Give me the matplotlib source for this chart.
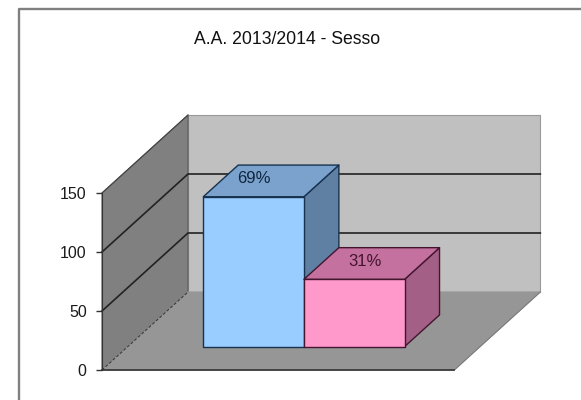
import matplotlib
matplotlib.use("Agg")
import matplotlib.pyplot as plt
from matplotlib.lines import Line2D
from matplotlib.patches import Polygon

plt.rcParams['font.family'] = ['Liberation Sans', 'DejaVu Sans']

# data
title = "A.A. 2013/2014 - Sesso"
values = [127, 57]
labels = ["69%", "31%"]
yticks = [0, 50, 100, 150]

# colours, one set per bar: front, top, side, edge
front_colors = ['#99CCFF', '#FF99CC']
top_colors = ['#7AA2CC', '#C4719F']
side_colors = ['#5F80A3', '#A35F85']
edge_colors = ['#16324F', '#43152F']
label_colors = ['#10263F', '#43152F']
label_shift = [0, 11]  # pixels, the labels are not centred the same way

W, H = 581, 400
x0, x1 = 102, 454.3  # floor front edge in pixels
y0, y1 = 370, 193  # 0 and 150 on the axis in pixels
depth_x, depth_y = 86, 78  # pixels from front to back of the box

fig = plt.figure(figsize=(W / 100, H / 100), dpi=100)
ax = fig.add_axes([x0 / W, 1 - y0 / H, (x1 - x0) / W, (y0 - y1) / H])
ax.set_xlim(0, 1)
ax.set_ylim(yticks[0], yticks[-1])
ax.patch.set_visible(False)

dx = depth_x / (x1 - x0)
dy = depth_y / (y0 - y1) * yticks[-1]


def pt(x, y, d):
    # oblique projection, d goes from 0 (front) to 1 (back)
    return (x + d * dx, y + d * dy)


def face(points, color, edge, lw=1.0, z=1):
    ax.add_patch(Polygon(points, closed=True, facecolor=color, edgecolor=edge,
                         linewidth=lw, clip_on=False, zorder=z, joinstyle='round'))


top = yticks[-1]

# walls and floor
face([pt(0, 0, 1), pt(1, 0, 1), pt(1, top, 1), pt(0, top, 1)], '#C0C0C0', '#9A9A9A', 0.8)
face([pt(0, 0, 0), pt(0, 0, 1), pt(0, top, 1), pt(0, top, 0)], '#808080', '#5A5A5A', 0.8)
face([pt(0, 0, 0), pt(1, 0, 0), pt(1, 0, 1), pt(0, 0, 1)], '#969696', '#969696', 0.8)

# gridlines go along the side wall and then the back wall
for v in yticks[1:-1]:
    a, b, c = pt(0, v, 0), pt(0, v, 1), pt(1, v, 1)
    ax.plot([a[0], b[0], c[0]], [a[1], b[1], c[1]], color='#222222', lw=1.2,
            clip_on=False, zorder=2)
for v in [top]:
    a, b = pt(0, v, 0), pt(0, v, 1)
    ax.plot([a[0], b[0]], [a[1], b[1]], color='#444444', lw=0.8, clip_on=False, zorder=2)

# edges of the floor
a, b = pt(0, 0, 0), pt(0, 0, 1)
ax.plot([a[0], b[0]], [a[1], b[1]], color='#333333', lw=0.7, ls=(0, (3, 2)), clip_on=False, zorder=2)
a, b = pt(1, 0, 0), pt(1, 0, 1)
ax.plot([a[0], b[0]], [a[1], b[1]], color='#7A7A7A', lw=0.7, clip_on=False, zorder=2)

# bars, one category with two series and gap width 150%
n = len(values)
bar_w = 1 / (n + 1.5)
start = 0.75 * bar_w
d0, d1 = 0.3, 0.706

for i in range(n):
    left = start + i * bar_w
    right = left + bar_w
    v = values[i]
    z = 3 + i
    e = edge_colors[i]
    face([pt(right, 0, d0), pt(right, 0, d1), pt(right, v, d1), pt(right, v, d0)], side_colors[i], e, z=z)
    face([pt(left, v, d0), pt(right, v, d0), pt(right, v, d1), pt(left, v, d1)], top_colors[i], e, z=z)
    face([pt(left, 0, d0), pt(right, 0, d0), pt(right, v, d0), pt(left, v, d0)], front_colors[i], e, z=z)
    cx, cy = pt((left + right) / 2, v, d0)
    ax.annotate(labels[i], (cx, cy), xytext=(label_shift[i] * 0.72, 13),
                textcoords='offset points', ha='center', va='center',
                fontsize=12, color=label_colors[i], zorder=10)

# axis
for s in ['top', 'right']:
    ax.spines[s].set_visible(False)
ax.spines['left'].set_color('#333333')
ax.spines['left'].set_zorder(2)
ax.spines['bottom'].set_color('#333333')
ax.spines['bottom'].set_linewidth(1.2)
ax.spines['bottom'].set_zorder(2)
ax.set_xticks([])
ax.set_yticks(yticks)
ax.tick_params(axis='y', length=4, width=1, color='#333333', labelsize=11.5,
               labelcolor='#1A1A1A', pad=7)

# outer frame of the sheet, only top and left are in the crop
fig.add_artist(Line2D([18.5 / W, 18.5 / W, 1], [0, 1 - 8.5 / H, 1 - 8.5 / H],
                      color='#808080', lw=1.7, transform=fig.transFigure))

fig.text(287.5 / W, 1 - 39 / H, title, ha='center', va='center', fontsize=12.7, color='#111111')

fig.savefig('out.png', dpi=100, facecolor='white')
plt.close(fig)
